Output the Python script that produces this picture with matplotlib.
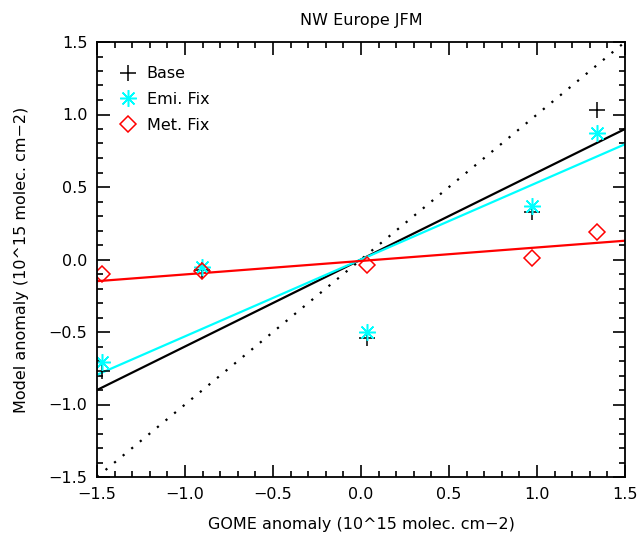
import matplotlib
matplotlib.use("Agg")
import matplotlib.pyplot as plt
import numpy as np
from matplotlib.ticker import MultipleLocator

# values
gome = [-1.47, -0.905, 0.035, 0.97, 1.34]
base = [-0.77, -0.07, -0.54, 0.33, 1.03]
emi_fix = [-0.71, -0.05, -0.50, 0.37, 0.87]
met_fix = [-0.10, -0.08, -0.04, 0.01, 0.19]

# fitted lines (slope, intercept)
fit_base = (0.60, 0.0)
fit_emi = (0.53, 0.0)
fit_met = (0.093, -0.01)

xlim = (-1.5, 1.5)
ylim = (-1.5, 1.5)

plt.rcParams["font.family"] = "DejaVu Sans"

fig = plt.figure(figsize=(6.39, 5.38), dpi=100)
ax = fig.add_axes([97 / 639, 1 - 477 / 538, 528 / 639, 435 / 538])

xx = np.array(xlim)
ax.plot(xx, xx, color="black", linestyle=(0, (1, 4)), linewidth=1.6)
ax.plot(xx, fit_base[0] * xx + fit_base[1], color="black", linewidth=1.6)
ax.plot(xx, fit_emi[0] * xx + fit_emi[1], color="cyan", linewidth=1.6)
ax.plot(xx, fit_met[0] * xx + fit_met[1], color="red", linewidth=1.6)

ax.plot(gome, base, linestyle="none", marker="+", markersize=11,
        markeredgewidth=1.1, color="black", label="Base")
ax.plot(gome, emi_fix, linestyle="none", marker=(8, 2, 0), markersize=12,
        markeredgewidth=1.1, color="cyan", label="Emi. Fix")
ax.plot(gome, met_fix, linestyle="none", marker="D", markersize=8,
        markerfacecolor="none", markeredgewidth=1.1, color="red", label="Met. Fix")

ax.set_xlim(*xlim)
ax.set_ylim(*ylim)
ax.xaxis.set_major_locator(MultipleLocator(0.5))
ax.xaxis.set_minor_locator(MultipleLocator(0.1))
ax.yaxis.set_major_locator(MultipleLocator(0.5))
ax.yaxis.set_minor_locator(MultipleLocator(0.1))
ax.xaxis.set_major_formatter(plt.FuncFormatter(lambda v, p: f"{v:.1f}".replace("-", "\u2212")))
ax.yaxis.set_major_formatter(plt.FuncFormatter(lambda v, p: f"{v:.1f}".replace("-", "\u2212")))
ax.tick_params(which="both", direction="in", top=True, right=True, labelsize=11.5, width=1.2)
ax.tick_params(which="major", length=9, pad=7)
ax.tick_params(which="minor", length=4.5)
for s in ax.spines.values():
    s.set_linewidth(1.3)

ax.set_title("NW Europe JFM", fontsize=11.5, pad=12)
ax.set_xlabel("GOME anomaly (10^15 molec. cm\u22122)", fontsize=11.5, labelpad=11)
ax.set_ylabel("Model anomaly (10^15 molec. cm\u22122)", fontsize=11.5, labelpad=14)

ax.legend(loc="upper left", bbox_to_anchor=(0, 1 - 5 / 435), frameon=False,
          fontsize=11.5, handletextpad=0.4, borderaxespad=0.8,
          labelspacing=0.68, handlelength=1.5)

fig.savefig("out.png", dpi=100)
